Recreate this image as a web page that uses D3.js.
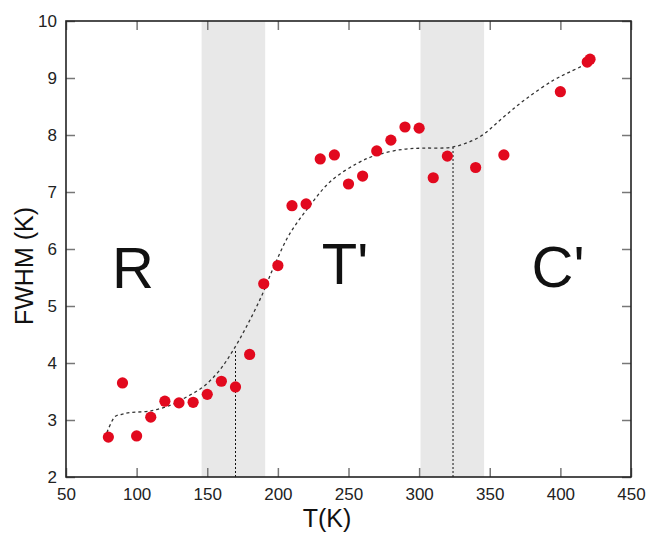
<!DOCTYPE html>
<html><head><meta charset="utf-8">
<script src="https://cdn.jsdelivr.net/npm/d3@7"></script>
<style>body{margin:0;background:#fff}svg{display:block}text{font-family:"Liberation Sans",Arial,sans-serif}</style>
</head><body><svg id="c" width="646" height="534"></svg>
<script>
const temps = [80,90,100,110,120,130,140,150,160,170,180,190,200,210,220,230,240,250,260,270,280,290,300,310,320,340,360,400,419,421];
const fwhm  = [2.70,3.65,2.72,3.05,3.33,3.30,3.31,3.45,3.68,3.58,4.15,5.39,5.71,6.76,6.79,7.58,7.65,7.14,7.28,7.72,7.91,8.14,8.12,7.25,7.63,7.43,7.65,8.76,9.28,9.33];
const fitT = [79,84.7,89.4,95,110,125,135,147,158,168,178,188,197,208,222,237,256,270,289,303,324,343,360,376,395,407,419];
const fitF = [2.78,3.06,3.10,3.13,3.16,3.27,3.40,3.58,3.85,4.21,4.65,5.15,5.68,6.25,6.74,7.18,7.50,7.65,7.75,7.77,7.79,7.97,8.32,8.64,8.96,9.11,9.25];
const bands = [[146,191],[301,346]];
const markers = [[170,4.23],[324,7.79]];
const phases = ["R","T'","C'"];
const phaseX = [133,345,558];
const xTicks = [50,100,150,200,250,300,350,400,450];
const yTicks = [2,3,4,5,6,7,8,9,10];

const svg = d3.select("#c");
const L=66,R=631,T=21,B=477;
const x = d3.scaleLinear().domain([50,450]).range([L,R]);
const y = d3.scaleLinear().domain([2,10]).range([B,T]);

svg.selectAll("rect.band").data(bands).join("rect")
  .attr("x",d=>x(d[0])).attr("width",d=>x(d[1])-x(d[0]))
  .attr("y",T).attr("height",B-T).attr("fill","#e8e8e8");

const phaseBase=[288,284,287];
svg.selectAll("text.ph").data(phases).join("text")
  .attr("x",(d,i)=>phaseX[i]).attr("y",(d,i)=>phaseBase[i])
  .attr("text-anchor","middle").attr("font-size",58).attr("fill","#111").text(d=>d);

svg.selectAll("line.mk").data(markers).join("line")
  .attr("x1",d=>x(d[0])).attr("x2",d=>x(d[0]))
  .attr("y1",y(2)).attr("y2",d=>y(d[1]))
  .attr("stroke","#111").attr("stroke-width",1).attr("stroke-dasharray","2,2");

const fit = fitT.map((t,i)=>[t,fitF[i]]);
svg.append("path").datum(fit)
  .attr("d",d3.line().x(d=>x(d[0])).y(d=>y(d[1])).curve(d3.curveCatmullRom))
  .attr("fill","none").attr("stroke","#333").attr("stroke-width",1.3).attr("stroke-dasharray","3,3");

svg.selectAll("circle").data(temps).join("circle")
  .attr("cx",d=>x(d)).attr("cy",(d,i)=>y(fwhm[i])).attr("r",5.6).attr("fill","#e2091e");

const tickCol="#777";
const gb = svg.append("g").attr("transform",`translate(0,${B})`)
  .call(d3.axisBottom(x).tickValues(xTicks).tickSizeInner(-9).tickSizeOuter(0).tickPadding(11));
const gt = svg.append("g").attr("transform",`translate(0,${T})`)
  .call(d3.axisTop(x).tickValues(xTicks).tickSizeInner(-9).tickSizeOuter(0).tickFormat(""));
const gl = svg.append("g").attr("transform",`translate(${L},0)`)
  .call(d3.axisLeft(y).tickValues(yTicks).tickSizeInner(-9).tickSizeOuter(0).tickPadding(9));
const gr = svg.append("g").attr("transform",`translate(${R},0)`)
  .call(d3.axisRight(y).tickValues(yTicks).tickSizeInner(-9).tickSizeOuter(0).tickFormat(""));
[gb,gt,gl,gr].forEach(g=>{
  g.select(".domain").remove();
  g.selectAll(".tick line").attr("stroke",tickCol).attr("stroke-width",1.5);
  g.selectAll(".tick text").attr("font-size",17).attr("fill","#222")
   .attr("font-family",'"Liberation Sans",Arial,sans-serif');
});
svg.append("rect").attr("x",L).attr("y",T).attr("width",R-L).attr("height",B-T)
  .attr("fill","none").attr("stroke","#222").attr("stroke-width",1.6);

svg.append("text").attr("x",327).attr("y",527).attr("text-anchor","middle")
  .attr("font-size",25).attr("fill","#111").text("T(K)");
svg.append("text").attr("transform","translate(33,266) rotate(-90)").attr("text-anchor","middle")
  .attr("font-size",25).attr("fill","#111").text("FWHM (K)");
</script></body></html>
